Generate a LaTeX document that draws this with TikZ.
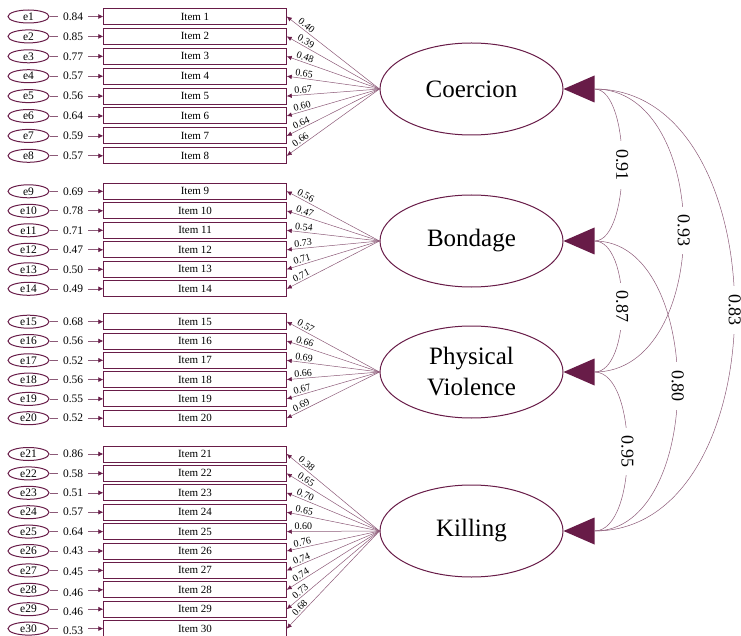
\documentclass[tikz,border=0pt]{standalone}
\usepackage{fontspec}
\setmainfont{Liberation Serif}
\usetikzlibrary{arrows.meta,shapes.geometric}
\definecolor{maroon}{RGB}{104,28,72}
\definecolor{thinline}{RGB}{140,90,120}
\begin{document}
\begin{tikzpicture}[x=1pt,y=-1pt,
  itembox/.style={draw=maroon, line width=1pt, minimum width=182.5pt, minimum height=16pt, inner sep=0pt, font=\fontsize{11}{12}\selectfont},
  errnode/.style={ellipse, draw=maroon, line width=1pt, minimum width=41pt, minimum height=13pt, inner sep=0pt, font=\fontsize{11.5}{12}\selectfont},
  latent/.style={ellipse, draw=maroon, line width=1pt, minimum width=183pt, minimum height=92pt, inner sep=0pt, align=center, font=\fontsize{25}{31}\selectfont},
  errline/.style={draw=thinline, line width=0.6pt, -{Latex[length=5pt,width=5pt,color=maroon]}},
  errlab/.style={pos=0.44, fill=white, inner xsep=5pt, inner ysep=1pt, font=\fontsize{11.5}{12}\selectfont},
  loadline/.style={draw=thinline, line width=0.5pt, {Latex[length=5pt,width=4.5pt,color=maroon]}-},
  loadlab/.style={pos=0.18, sloped, above, inner sep=1.5pt, font=\fontsize{10}{11}\selectfont},
  covline/.style={draw=thinline, line width=0.5pt},
  covlab/.style={pos=0.5, fill=white, rotate=-90, inner xsep=8pt, inner ysep=1pt, font=\fontsize{18}{20}\selectfont},
  tri/.style={fill=maroon}
]
\useasboundingbox (0,0) rectangle (741,636);

% latent variables
\node[latent] (L1) at (471.5,89) {Coercion};
\node[latent] (L2) at (471.5,241) {Bondage};
\node[latent] (L3) at (471.5,372) {Physical\\Violence};
\node[latent] (L4) at (471.5,531) {Killing};

\foreach \k in {1,2,3,4}{
  \fill[tri] (L\k.east) -- ++(31,-13.5) -- ++(0,27) -- cycle;
  \coordinate (c\k) at ([xshift=31pt]L\k.east);
}

% items
\foreach \i/\y/\ev/\ld/\L/\dy in {
  1/16.5/0.84/0.40/1/0, 2/36.4/0.85/0.39/1/0, 3/56.3/0.77/0.48/1/0, 4/76.2/0.57/0.65/1/0,
  5/96.1/0.56/0.67/1/0, 6/116/0.64/0.60/1/0, 7/135.9/0.59/0.64/1/0, 8/155.8/0.57/0.66/1/0,
  9/191.3/0.69/0.56/2/0, 10/210.8/0.78/0.47/2/0, 11/230.3/0.71/0.54/2/0, 12/249.8/0.47/0.73/2/0,
  13/269.3/0.50/0.71/2/0, 14/288.8/0.49/0.71/2/0,
  15/321.7/0.68/0.57/3/0, 16/341/0.56/0.66/3/0, 17/360.3/0.52/0.69/3/0, 18/379.6/0.56/0.66/3/0,
  19/398.9/0.55/0.67/3/0, 20/418.2/0.52/0.69/3/0,
  21/454/0.86/0.38/4/0, 22/473.4/0.58/0.65/4/0, 23/492.8/0.51/0.70/4/0, 24/512.2/0.57/0.65/4/0,
  25/531.6/0.64/0.60/4/0, 26/551/0.43/0.76/4/0, 27/570.4/0.45/0.74/4/1.5, 28/589.8/0.46/0.74/4/2.5,
  29/609.2/0.46/0.73/4/2.5, 30/628.6/0.53/0.68/4/2}{
  \node[itembox] (it\i) at (195,\y) {Item \i};
  \node[errnode] (e\i) at (28.5,\y) {e\i};
  \draw[errline] (e\i.east) -- node[errlab, yshift=-\dy pt]{\ev} (it\i.west);
  \draw[loadline] (it\i.east) -- node[loadlab]{\ld} (L\L.west);
}

% covariances
\draw[covline] (c1) .. controls +(37,0) and +(37,0) .. node[covlab]{0.91} (c2);
\draw[covline] (c1) .. controls +(119,0) and +(119,0) .. node[covlab]{0.93} (c3);
\draw[covline] (c1) .. controls +(187,0) and +(187,0) .. node[covlab]{0.83} (c4);
\draw[covline] (c2) .. controls +(37,0) and +(37,0) .. node[covlab]{0.87} (c3);
\draw[covline] (c2) .. controls +(111,0) and +(111,0) .. node[covlab]{0.80} (c4);
\draw[covline] (c3) .. controls +(44,0) and +(44,0) .. node[covlab]{0.95} (c4);
\end{tikzpicture}
\end{document}
